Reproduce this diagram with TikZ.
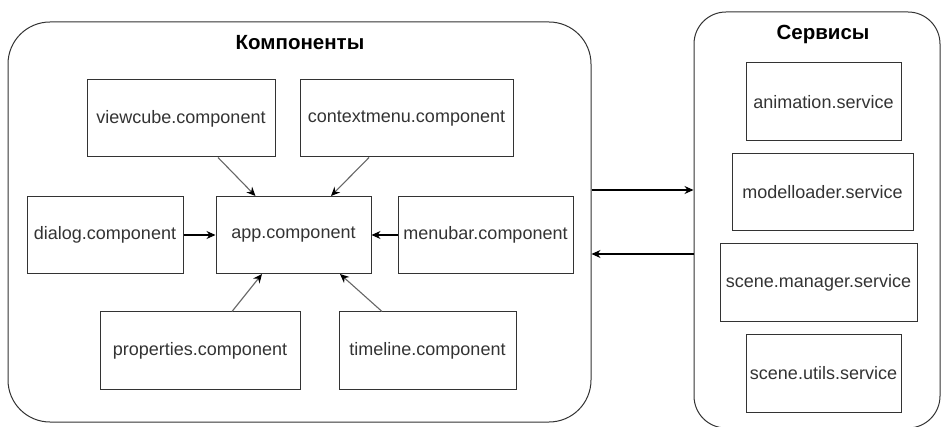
\documentclass[tikz,border=0pt]{standalone}
\usepackage{fontspec}
\setmainfont{Liberation Sans}
\usepackage{xcolor}
\usepackage{tikz}
\usetikzlibrary{arrows.meta, positioning}

\definecolor{inkgray}{HTML}{333333}
\definecolor{linkgray}{HTML}{666666}

\begin{document}
\begin{tikzpicture}[x=1pt, y=-1pt, node distance=30pt,
  >={Stealth[length=9pt, width=8pt, black]},
  every node/.style={font=\fontsize{18}{21}\selectfont, text=inkgray},
  compbox/.style={draw=inkgray, line width=1pt, rectangle, inner sep=0pt, minimum height=77pt},
  group/.style={draw=inkgray, line width=1pt, rectangle, inner sep=0pt}]
\useasboundingbox (0,0) rectangle (942,427);

% containers
\node[group, rounded corners=42pt, minimum width=583pt, minimum height=400pt] (comps) at (299.5,222) {};
\node[group, rounded corners=32pt, minimum width=246pt, minimum height=416pt] (servs) at (817,220) {};
\node[font=\fontsize{20.5}{24}\bfseries, text=black] (compstitle) at (300,43) {Компоненты};
\node[font=\fontsize{20.5}{24}\bfseries, text=black] (servstitle) at (823,34) {Сервисы};

% components
\node[compbox, minimum width=155pt] (app) at (293.5,235) {app.component};
\node[compbox, minimum width=156pt, left=32pt of app] (dialog) {dialog.component};
\node[compbox, minimum width=175pt, right=26pt of app] (menubar) {menubar.component};
\node[compbox, minimum width=188pt] (viewcube) at (181,118.5) {viewcube.component};
\node[compbox, minimum width=213pt] (contextmenu) at (406.5,118.5) {contextmenu.component};
\node[compbox, minimum width=200pt] (properties) at (200,350.5) {properties.component};
\node[compbox, minimum width=177pt] (timeline) at (427.5,350.5) {timeline.component};

% services
\node[compbox, minimum width=155pt, minimum height=78pt] (animation) at (823.5,102) {animation.service};
\node[compbox, minimum width=181pt] (modelloader) at (822.5,192.5) {modelloader.service};
\node[compbox, minimum width=197pt, minimum height=78pt] (scenemanager) at (818.5,283) {scene.manager.service};
\node[compbox, minimum width=155pt] (sceneutils) at (823.5,373.5) {scene.utils.service};

% links into app.component
\draw[->, line width=1.1pt, draw=linkgray] ([xshift=37pt]viewcube.south) -- ([xshift=-38pt]app.north);
\draw[->, line width=1.1pt, draw=linkgray] ([xshift=-37.5pt]contextmenu.south) -- ([xshift=37.5pt]app.north);
\draw[->, line width=1.1pt, draw=linkgray] ([xshift=32pt]properties.north) -- ([xshift=-31.5pt]app.south);
\draw[->, line width=1.1pt, draw=linkgray] ([xshift=-45.5pt]timeline.north) -- ([xshift=46.5pt]app.south);
\draw[->, line width=1.1pt] (dialog) -- (app);
\draw[->, line width=1.1pt] (menubar) -- (app);

% between the two groups
\coordinate (tosrv) at (0,190);
\coordinate (fromsrv) at (0,254);
\draw[->, line width=1.1pt] (comps.east |- tosrv) -- (servs.west |- tosrv);
\draw[->, line width=1.1pt] (servs.west |- fromsrv) -- (comps.east |- fromsrv);
\end{tikzpicture}
\end{document}
